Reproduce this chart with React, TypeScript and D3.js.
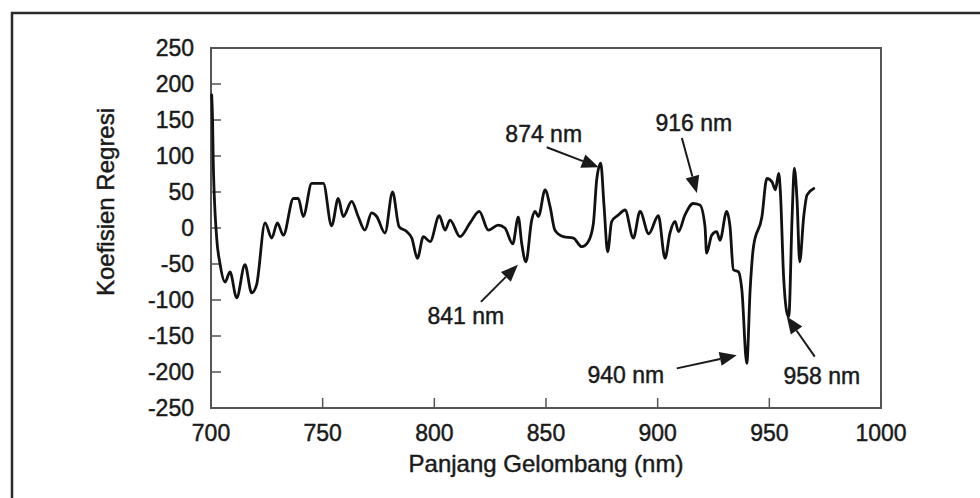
import React from "react";
import * as d3 from "d3";

const wavelengths: number[] = [
  700.3, 700.7, 701.0, 702.5, 704.0, 706.3, 708.5, 711.5, 715.2, 718.2, 720.4, 724.2, 727.2, 729.7, 732.4,
  736.9, 739.1, 741.3, 745.1, 750.3, 754.0, 757.0, 759.2, 763.0, 765.9, 768.9, 771.9, 774.2, 777.9,
  781.3, 784.2, 787.6, 789.9, 792.4, 795.1, 798.1, 802.2, 804.8, 807.0, 811.5, 816.0, 820.1, 824.2,
  828.6, 831.6, 835.1, 837.6, 839.1, 841.0, 843.6, 845.1, 846.6, 849.6, 851.8, 854.0, 857.8, 862.3,
  866.0, 868.9, 871.2, 872.7, 874.5, 876.0, 877.6, 879.4, 882.4, 885.4, 889.1, 892.1, 896.0, 900.3,
  903.3, 905.5, 907.8, 909.3, 912.2, 915.9, 918.9, 921.2, 921.9, 924.2, 926.4, 927.9, 930.9, 932.4,
  933.9, 936.2, 937.7, 939.9, 941.4, 942.9, 946.7, 948.9, 951.2, 952.7, 954.2, 954.9, 956.4, 957.9,
  958.7, 960.2, 961.2, 962.4, 963.6, 965.4, 966.9, 969.9,
];

const coefficients: number[] = [
  185, 150, 94, -12, -49, -75, -61, -97, -51, -90, -79, 7, -14, 7, -10,
  41, 41, 16, 62, 62, 3, 41, 16, 37, 16, -3, 21, 16, -7,
  50, 2, -5, -14, -42, -12, -19, 17, -3, 11, -12, 7, 23, -3,
  4, 0, -22, 15, -21, -47, 11, 23, 16, 53, 30, -3, -12, -14,
  -26, -19, 6, 67, 90, 30, -33, 9, 18, 25, -14, 23, -8, 17,
  -42, -7, 9, -5, 18, 34, 32, 2, -35, -10, -5, -17, 23, 2,
  -58, -61, -86, -188, -86, -26, 16, 69, 64, 53, 76, 53, -68, -118,
  -123, 16, 83, 39, -47, 16, 46, 55,
];

const xTicks: number[] = [700, 750, 800, 850, 900, 950, 1000];
const yTicks: number[] = [-250, -200, -150, -100, -50, 0, 50, 100, 150, 200, 250];

const annotationLabels: string[] = ["874 nm", "841 nm", "916 nm", "940 nm", "958 nm"];
const annotationWavelengths: number[] = [874.5, 841.0, 918.9, 939.9, 958.7];
const annotationValues: number[] = [90, -47, 32, -188, -123];

// layout offsets (pixels) for each annotation: tip offset, tail offset from tip, text offset from tip
const annotationLayout = [
  { tipDx: -2, tipDy: 4, tailDx: -52, tailDy: -20, textDx: -55, textDy: -25 },
  { tipDx: -8, tipDy: 3, tailDx: -37, tailDy: 37, textDx: -52, textDy: 59 },
  { tipDx: -3, tipDy: -12, tailDx: -15, tailDy: -55, textDx: -3, textDy: -62 },
  { tipDx: -10, tipDy: -8, tailDx: -60, tailDy: 13, textDx: -111, textDy: 28 },
  { tipDx: -2, tipDy: 0, tailDx: 28, tailDy: 40, textDx: 35, textDy: 67 },
];

const FONT = "'Liberation Sans', Arial, Helvetica, sans-serif";

function Arrow({ x1, y1, x2, y2 }: { x1: number; y1: number; x2: number; y2: number }) {
  const dx = x2 - x1;
  const dy = y2 - y1;
  const len = Math.sqrt(dx * dx + dy * dy);
  const ux = dx / len;
  const uy = dy / len;
  const headLen = 17;
  const headW = 7;
  const bx = x2 - ux * headLen;
  const by = y2 - uy * headLen;
  const px = -uy;
  const py = ux;
  const pts = [
    [x2, y2],
    [bx + px * headW, by + py * headW],
    [bx - px * headW, by - py * headW],
  ];
  return (
    <g>
      <line x1={x1} y1={y1} x2={bx} y2={by} stroke="#1a1a1a" strokeWidth={2} />
      <polygon points={pts.map((p) => p.join(",")).join(" ")} fill="#1a1a1a" />
    </g>
  );
}

export default function App() {
  const width = 980;
  const height = 498;
  const left = 211;
  const right = 881;
  const top = 48;
  const bottom = 408;

  const x = d3.scaleLinear().domain([700, 1000]).range([left, right]);
  const y = d3.scaleLinear().domain([-250, 250]).range([bottom, top]);

  const data = wavelengths.map((w, i) => [w, coefficients[i]] as [number, number]);
  const line = d3
    .line<[number, number]>()
    .x((d) => x(d[0]))
    .y((d) => y(d[1]))
    .curve(d3.curveMonotoneX);

  const tickLen = 10;
  const axisColor = "#555";
  const textColor = "#1a1a1a";
  const textStroke = { stroke: textColor, strokeWidth: 0.45 };

  return (
    <div style={{ position: "fixed", left: 0, top: 0, width, height, background: "#fff" }}>
      <svg width={width} height={height} style={{ display: "block" }}>
        <rect x={0} y={0} width={width} height={height} fill="#fff" />
        {/* outer frame */}
        <rect x={12} y={13} width={1000} height={600} fill="none" stroke="#2a2a2a" strokeWidth={2.5} />

        {/* plot frame */}
        <rect
          x={left}
          y={top}
          width={right - left}
          height={bottom - top}
          fill="none"
          stroke={axisColor}
          strokeWidth={2}
        />

        {/* x ticks */}
        {xTicks.map((t) => (
          <g key={"xt" + t}>
            <line x1={x(t)} x2={x(t)} y1={bottom} y2={bottom - tickLen} stroke={axisColor} strokeWidth={1.5} />
            <text
              x={x(t)}
              y={bottom + 33}
              textAnchor="middle"
              fontFamily={FONT}
              fontSize={23}
              fill={textColor}
              {...textStroke}
            >
              {t}
            </text>
          </g>
        ))}

        {/* y ticks */}
        {yTicks.map((t) => (
          <g key={"yt" + t}>
            <line x1={left} x2={left + tickLen} y1={y(t)} y2={y(t)} stroke={axisColor} strokeWidth={1.5} />
            <text
              x={left - 17}
              y={y(t)}
              dy="0.36em"
              textAnchor="end"
              fontFamily={FONT}
              fontSize={23}
              fill={textColor}
              {...textStroke}
            >
              {t}
            </text>
          </g>
        ))}

        {/* axis titles */}
        <text
          x={(left + right) / 2}
          y={472}
          textAnchor="middle"
          fontFamily={FONT}
          fontSize={24}
          fill={textColor}
          {...textStroke}
        >
          Panjang Gelombang (nm)
        </text>
        <text
          transform={`translate(114, 202) rotate(-90)`}
          textAnchor="middle"
          fontFamily={FONT}
          fontSize={24}
          fill={textColor}
          {...textStroke}
        >
          Koefisien Regresi
        </text>

        {/* data line */}
        <path
          d={line(data) || ""}
          fill="none"
          stroke="#111"
          strokeWidth={2.8}
          strokeLinejoin="round"
          strokeLinecap="round"
        />

        {/* annotations */}
        {annotationLabels.map((lab, i) => {
          const L = annotationLayout[i];
          const tx = x(annotationWavelengths[i]) + L.tipDx;
          const ty = y(annotationValues[i]) + L.tipDy;
          return (
            <g key={lab}>
              <Arrow x1={tx + L.tailDx} y1={ty + L.tailDy} x2={tx} y2={ty} />
              <text
                x={tx + L.textDx}
                y={ty + L.textDy}
                textAnchor="middle"
                fontFamily={FONT}
                fontSize={23}
                fill={textColor}
                {...textStroke}
              >
                {lab}
              </text>
            </g>
          );
        })}
      </svg>
    </div>
  );
}
